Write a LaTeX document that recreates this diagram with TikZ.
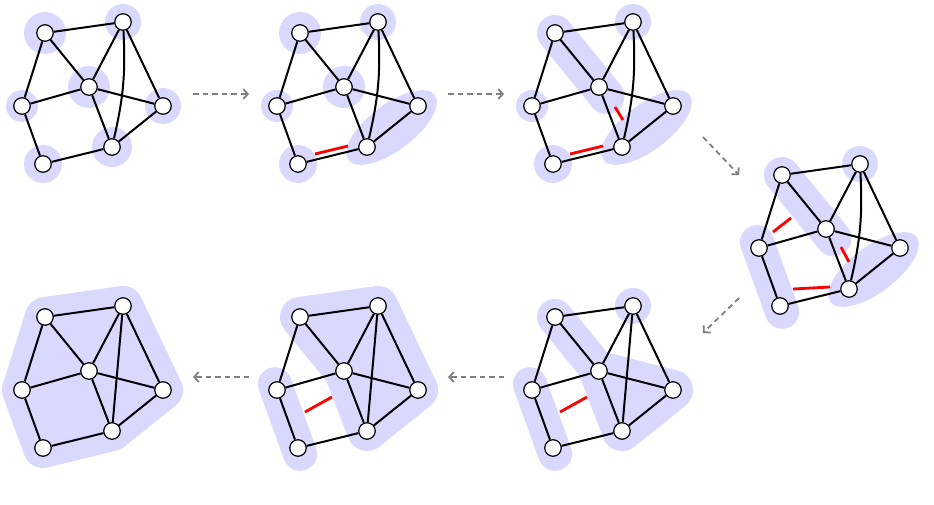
\documentclass[tikz,border=0pt]{standalone}
\usetikzlibrary{arrows.meta,shapes.geometric,calc}
\definecolor{blobc}{RGB}{217,217,255}
\definecolor{arrc}{RGB}{128,128,128}
\tikzset{
  vtx/.style={circle, draw=black, fill=white, line width=1.2pt, minimum size=16.5pt, inner sep=0pt},
  edg/.style={line width=2pt, black},
  cutmark/.style={line width=2.8pt, red},
  blobline/.style={draw=blobc, line cap=round, line join=round},
  blobhull/.style={draw=blobc, fill=blobc, line join=round},
  efblob/.style={ellipse, fill=blobc, minimum width=108pt, minimum height=46pt, inner sep=0pt, rotate=37},
  flow/.style={arrc, line width=1.8pt, dash pattern=on 5.5pt off 4pt, -{Straight Barb[length=4.5pt,width=10pt]}},
}
\newcommand\defpts[1]{%
  \coordinate (#1a) at (45,33);
  \coordinate (#1b) at (123,22);
  \coordinate (#1c) at (89,87);
  \coordinate (#1d) at (22,106);
  \coordinate (#1e) at (163,106);
  \coordinate (#1f) at (112,147);
  \coordinate (#1g) at (43,164);
}
\newcommand\gdraw[2]{%
  \node[vtx] (#1A) at (#1a) {};
  \node[vtx] (#1B) at (#1b) {};
  \node[vtx] (#1C) at (#1c) {};
  \node[vtx] (#1D) at (#1d) {};
  \node[vtx] (#1E) at (#1e) {};
  \node[vtx] (#1F) at (#1f) {};
  \node[vtx] (#1G) at (#1g) {};
  \draw[edg] (#1A) -- (#1B);
  \draw[edg] (#1A) -- (#1C);
  \draw[edg] (#1A) -- (#1D);
  \draw[edg] (#1B) -- (#1C);
  \draw[edg] (#1B) -- (#1E);
  \draw[edg] (#1B) to[bend left=#2] (#1F);
  \draw[edg] (#1C) -- (#1D);
  \draw[edg] (#1C) -- (#1E);
  \draw[edg] (#1C) -- (#1F);
  \draw[edg] (#1E) -- (#1F);
  \draw[edg] (#1D) -- (#1G);
  \draw[edg] (#1G) -- (#1F);
}
\newcommand\oneblob[3]{\fill[blobc] (#1#2) circle (#3);}
\newcommand\acblob[1]{\draw[blobline, line width=36pt] (#1a) -- ($(#1a)!1.17!(#1c)$);}
\newcommand\dgblob[1]{\draw[blobline, line width=34pt] ($(#1d)!-0.1!(#1g)$) -- ($(#1d)!1.1!(#1g)$);}
\newcommand\efblobat[1]{\node[efblob] (#1ef) at ($(#1e)!0.5!(#1f)+(-1,1)$) {};}
\begin{document}
\begin{tikzpicture}[x=1pt,y=-1pt]
\useasboundingbox (0,0) rectangle (934,505);

% graph 1
\begin{scope}[shift={(0,0)}]
  \defpts{g1}
  \oneblob{g1}{a}{21}\oneblob{g1}{b}{18}\oneblob{g1}{c}{21}\oneblob{g1}{d}{16}
  \oneblob{g1}{e}{18}\oneblob{g1}{f}{20}\oneblob{g1}{g}{19}
  \gdraw{g1}{8}
\end{scope}

% graph 2
\begin{scope}[shift={(255,0)}]
  \defpts{g2}
  \oneblob{g2}{a}{21}\oneblob{g2}{b}{18}\oneblob{g2}{c}{21}\oneblob{g2}{d}{16}
  \oneblob{g2}{g}{19}
  \efblobat{g2}
  \gdraw{g2}{8}
  \coordinate (g2r1) at (60,154); \coordinate (g2r2) at (93,146);
  \draw[cutmark] (g2r1) -- (g2r2);
\end{scope}

% graph 3
\begin{scope}[shift={(510,0)}]
  \defpts{g3}
  \oneblob{g3}{b}{18}\oneblob{g3}{d}{16}\oneblob{g3}{g}{19}
  \acblob{g3}
  \efblobat{g3}
  \gdraw{g3}{8}
  \coordinate (g3r1) at (60,154); \coordinate (g3r2) at (93,146);
  \draw[cutmark] (g3r1) -- (g3r2);
  \coordinate (g3r3) at (105,107); \coordinate (g3r4) at (113,120);
  \draw[cutmark] (g3r3) -- (g3r4);
\end{scope}

% graph 4
\begin{scope}[shift={(737,142)}]
  \defpts{g4}
  \oneblob{g4}{b}{18}
  \acblob{g4}
  \dgblob{g4}
  \efblobat{g4}
  \gdraw{g4}{8}
  \coordinate (g4r1) at (36,90); \coordinate (g4r2) at (54,76);
  \draw[cutmark] (g4r1) -- (g4r2);
  \coordinate (g4r3) at (104,105); \coordinate (g4r4) at (112,120);
  \draw[cutmark] (g4r3) -- (g4r4);
  \coordinate (g4r5) at (56,147); \coordinate (g4r6) at (93,145);
  \draw[cutmark] (g4r5) -- (g4r6);
\end{scope}

% graph 7 (bottom right)
\begin{scope}[shift={(510,284)}]
  \defpts{g7}
  \oneblob{g7}{b}{18}
  \acblob{g7}
  \draw[blobhull, line width=40pt] (g7c) -- (g7e) -- (g7f) -- cycle;
  \dgblob{g7}
  \gdraw{g7}{0}
  \coordinate (g7r1) at (50,128); \coordinate (g7r2) at (77,113);
  \draw[cutmark] (g7r1) -- (g7r2);
\end{scope}

% graph 6 (bottom middle)
\begin{scope}[shift={(255,284)}]
  \defpts{g6}
  \draw[blobhull, line width=40pt] (g6a) -- (g6b) -- (g6e) -- (g6f) -- (g6c) -- cycle;
  \dgblob{g6}
  \gdraw{g6}{0}
  \coordinate (g6r1) at (50,128); \coordinate (g6r2) at (77,113);
  \draw[cutmark] (g6r1) -- (g6r2);
\end{scope}

% graph 5 (bottom left)
\begin{scope}[shift={(0,284)}]
  \defpts{g5}
  \draw[blobhull, line width=40pt] (g5a) -- (g5b) -- (g5e) -- (g5f) -- (g5g) -- (g5d) -- cycle;
  \gdraw{g5}{0}
\end{scope}

% flow arrows
\coordinate (s1) at (193,94);  \coordinate (t1) at (249,94);
\coordinate (s2) at (448,94);  \coordinate (t2) at (504,94);
\coordinate (s3) at (703,137); \coordinate (t3) at (739,175);
\coordinate (s4) at (739,298); \coordinate (t4) at (703,333);
\coordinate (s5) at (504,377); \coordinate (t5) at (448,377);
\coordinate (s6) at (249,377); \coordinate (t6) at (193,377);
\draw[flow] (s1) -- (t1);
\draw[flow] (s2) -- (t2);
\draw[flow] (s3) -- (t3);
\draw[flow] (s4) -- (t4);
\draw[flow] (s5) -- (t5);
\draw[flow] (s6) -- (t6);
\end{tikzpicture}
\end{document}
